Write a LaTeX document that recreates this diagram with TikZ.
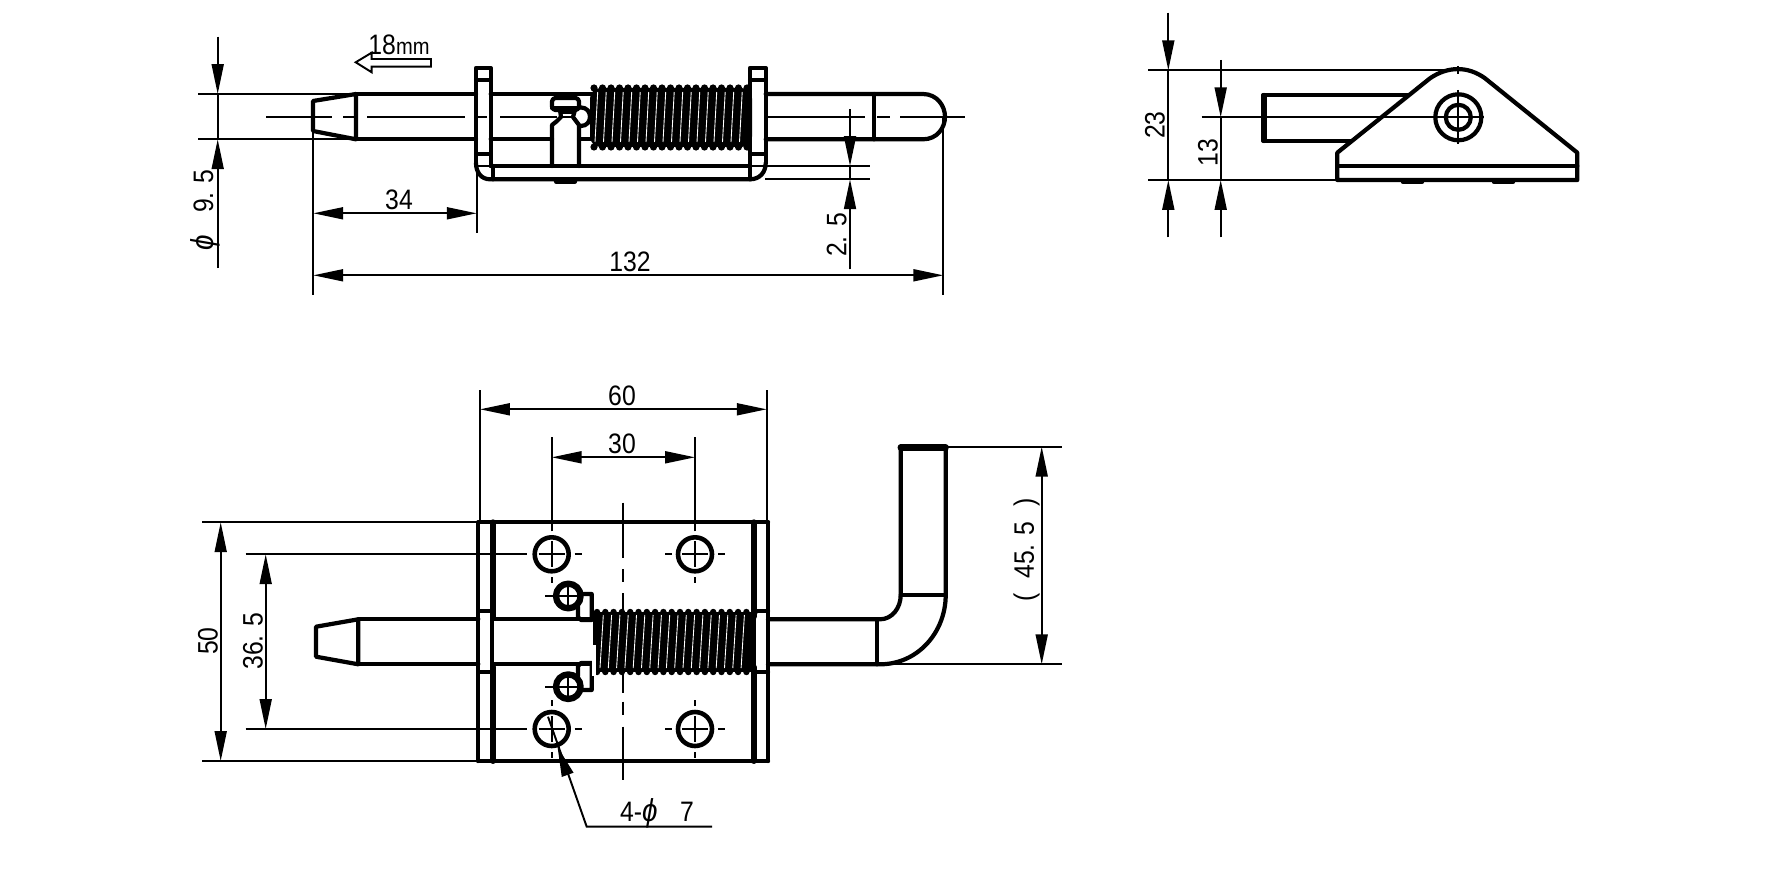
\documentclass[tikz,border=0pt]{standalone}
\usepackage{fontspec}
\setmainfont{Liberation Sans}
\usetikzlibrary{arrows.meta}
\tikzstyle{part}=[draw=black,line width=1.2pt,line join=round,line cap=round]
\tikzstyle{thinln}=[draw=black,line width=.55pt]
\tikzstyle{dimln}=[draw=black,line width=.55pt,>={Triangle[length=8.5pt,width=3.4pt]}]
\tikzstyle{lbl}=[font=\fontsize{8}{9}\selectfont,inner sep=0pt,xscale=.88]
\begin{document}
\begin{tikzpicture}[x=0.01cm,y=-0.01cm]
\useasboundingbox (0,0) rectangle (1767,873);
% top view: centre line
\draw[thinln] (266,116.7)--(332,116.7) (343,116.7)--(355,116.7) (367,116.7)--(465,116.7) (478,116.7)--(487,116.7) (500,116.7)--(557,116.7);
\draw[thinln] (767,116.7)--(865,116.7) (877,116.7)--(890,116.7) (900,116.7)--(965,116.7);
% top view: pin
\draw[part] (356,94)--(313,101)--(313,131)--(356,139.3)--cycle;
\draw[part] (356,94)--(476,94) (356,139.3)--(476,139.3);
\draw[part] (490.7,94)--(592,94) (490.7,139.3)--(552,139.3) (579,139.3)--(592,139.3);
\draw[part] (765.7,94)--(923,94) .. controls (937,94) and (945,106) .. (945,116.7) .. controls (945,128) and (937,139.3) .. (923,139.3)--(765.7,139.3);
\draw[part] (874.3,94)--(874.3,139.3);
% top view: plate
\draw[part] (476,163)--(476,68)--(490.7,68)--(490.7,166);
\draw[part] (476,80)--(490.7,80) (476,154)--(490.7,154);
\draw[part] (476,163) .. controls (476,172) and (481,179.3) .. (490,179.3)--(750,179.3) .. controls (760,179.3) and (765.7,172) .. (765.7,163);
\draw[part] (765.7,163)--(765.7,68)--(750,68)--(750,166);
\draw[part] (750,80)--(765.7,80) (750,154)--(765.7,154);
\draw[part] (490.7,166)--(750,166);
\draw[part] (493,166)--(493,179.3) (750,166)--(750,179.3);
\draw[thinln] (477,166)--(490.7,166) (751,166)--(765,166);
\draw[part] (556,181.5)--(575,181.5);
% top view: latch
\draw[part,rounded corners=1] (552,98) rectangle (579,110);
\draw[part] (552,108)--(579,108);
\draw[part] (560,110)--(561,117)--(557,121)--(552,125)--(552,166);
\draw[part] (575,110)--(573,117)--(576,121)--(579,125)--(579,166);
\draw[thinln] (561,113)--(573,113) (561,117)--(573,117);
\draw[part] (581,107.5) .. controls (593,107.5) and (593,126) .. (581,126);
% top view: spring
\fill[black,rounded corners=3] (590,88) rectangle (752,147);
\foreach \k in {0,...,18} {
  \fill[black] (594+8.5*\k,88) circle[radius=3.6];
  \fill[black] (594+8.5*\k,147) circle[radius=3.6];
}
\foreach \k in {0,...,17} {
  \draw[white,line width=.25pt] (597.7+8.5*\k,92)--(595+8.5*\k,142);
}
% top view: dimensions
\draw[thinln] (198,94)--(356,94) (198,139.3)--(356,139.3);
\draw[dimln] (217.7,94)--(217.7,139.3);
\draw[dimln,->] (217.7,36.7)--(217.7,94);
\draw[dimln,->] (217.7,268)--(217.7,139.3);
\node[rotate=90,lbl] (lblpin) at (205,210) {{\itshape\fontsize{9}{9}\selectfont ϕ}\hspace{.9em}9. 5};
\draw[thinln] (313.3,130)--(313.3,295) (476.7,166)--(476.7,232.7) (943.3,116.7)--(943.3,295);
\draw[dimln,<->] (313.3,213.3)--(476.7,213.3);
\node[lbl] (lbllen) at (399,200) {34};
\draw[dimln,<->] (313.3,275.3)--(943.3,275.3);
\node[lbl] (lbltotal) at (630,261.7) {132};
\draw[thinln] (765,166)--(870,166) (765,179.3)--(870,179.3);
\draw[dimln] (850,166)--(850,179.3);
\draw[dimln,->] (850,109.3)--(850,166);
\draw[dimln,->] (850,269.3)--(850,179.3);
\node[rotate=90,lbl] (lblplate) at (836.7,235) {2. 5};
\node[lbl] (lbltravel) at (399,44.5) {18{\fontsize{6.5}{7}\selectfont mm}};
\draw[thinln,line join=miter] (431,59)--(371.7,59)--(371.7,52.7)--(355.7,62.3)--(371.7,72.3)--(371.7,66.7)--(431,66.7)--cycle;
% side view
\draw[part] (1410,95)--(1263.3,95)--(1263.3,140.7)--(1356,140.7);
\draw[part,line width=1.8pt] (1264,96)--(1264,140);
\fill[white] (1337.3,152.7)--(1430,78.3) .. controls (1448,66) and (1468,66) .. (1485,78.3)--(1577.3,152.7)--(1577.3,180)--(1337.3,180)--cycle;
\draw[part] (1337.3,180)--(1337.3,152.7)--(1430,78.3) .. controls (1448,66) and (1468,66) .. (1485,78.3)--(1577.3,152.7)--(1577.3,180)--cycle;
\draw[part] (1337.3,165.7)--(1577.3,165.7);
\draw[part] (1403,182)--(1422,182) (1494,182)--(1513,182);
\draw[part] (1458.3,117.3) circle[radius=23];
\draw[part] (1458.3,117.3) circle[radius=12.5];
\draw[thinln] (1201.7,117.3)--(1484,117.3) (1458.3,90)--(1458.3,144) (1458.3,66)--(1458.3,74);
\draw[thinln] (1148,70.3)--(1456,70.3) (1148,180)--(1337,180);
\draw[dimln] (1168.3,70.3)--(1168.3,180);
\draw[dimln,->] (1168.3,12.7)--(1168.3,70.3);
\draw[dimln,->] (1168.3,237.3)--(1168.3,180);
\node[rotate=90,lbl] (lblheight) at (1155,125) {23};
\draw[dimln] (1220.7,117.3)--(1220.7,180);
\draw[dimln,->] (1220.7,60)--(1220.7,117.3);
\draw[dimln,->] (1220.7,237.3)--(1220.7,180);
\node[rotate=90,lbl] (lblaxis) at (1208,152.7) {13};
% bottom view: centre lines
\draw[thinln] (623.3,502.7)--(623.3,558.3) (623.3,569)--(623.3,581.7) (623.3,593)--(623.3,611) (623.3,673)--(623.3,693) (623.3,701.7)--(623.3,715) (623.3,726.7)--(623.3,780);
\foreach \cx/\cy in {551.7/554.3,695/554.3,551.7/729,695/729} {
  \draw[thinln] (\cx-13,\cy)--(\cx+13,\cy) (\cx,\cy-13)--(\cx,\cy+13);
  \draw[thinln] (\cx+23,\cy)--(\cx+30,\cy) (\cx,\cy+23)--(\cx,\cy+29) (\cx,\cy-23)--(\cx,\cy-29);
  \draw[part,line width=1.3pt] (\cx,\cy) circle[radius=17];
}
\draw[thinln] (695-30,554.3)--(695-23,554.3) (695-30,729)--(695-23,729);
% bottom view: plate
\draw[part] (478.3,522.3)--(768,522.3);
\draw[part] (478.3,761)--(768,761);
\draw[part] (478.3,522.3)--(478.3,761) (768,522.3)--(768,761);
\draw[part,line width=1.7pt] (493,522.3)--(493,616.7) (493,667)--(493,761);
\draw[part,line width=1.7pt] (753.5,522.3)--(753.5,616.7) (753.5,667)--(753.5,761);
\draw[part] (478.3,611)--(490,611) (478.3,672.3)--(490,672.3);
\draw[part] (757,611)--(768,611) (757,672.3)--(768,672.3);
\draw[part] (492,616.7)--(492,667) (754,616.7)--(754,667);
% bottom view: pin
\draw[part] (358.3,619.3)--(316,626.7)--(316,656.7)--(358.3,664.3)--cycle;
\draw[part] (358.3,619.3)--(478.3,619.3) (358.3,664.3)--(478.3,664.3);
\draw[part] (493,619.3)--(590,619.3) (493,664.3)--(590,664.3);
\draw[part] (768,619.3)--(880,619.3) .. controls (892,619.3) and (900.7,608) .. (900.7,595)--(900.7,446.7);
\draw[part] (768,664.3)--(880,664.3) .. controls (918,664.3) and (945.7,632) .. (945.7,595)--(945.7,446.7);
\draw[part] (876.7,619.3)--(876.7,664.3) (900.7,595)--(945.7,595);
\draw[part,line width=1.8pt] (900.7,447.5)--(945.7,447.5);
% bottom view: studs and spring
\foreach \cy in {596,686.7} {
  \draw[part,line width=1.8pt] (568.3,\cy) circle[radius=12.3];
  \draw[thinln] (545,\cy)--(582,\cy) (568.3,\cy-15)--(568.3,\cy+15);
}
\draw[part] (580,594)--(591.7,594)--(591.7,620)--(581,620)--(578,617)--(578,606.7);
\draw[part] (580,690)--(591.7,690)--(591.7,663)--(581,663)--(578,666)--(578,676);
\fill[black] (593.3,612) rectangle (755,672);
\fill[black] (593.3,612) rectangle (606,645);
\foreach \k in {0,...,19} {
  \fill[black] (597+8.3*\k,612) circle[radius=3.2];
  \fill[black] (597+8.3*\k,672) circle[radius=3.2];
}
\fill[white] (592,645) rectangle (596,676);
\foreach \k in {0,...,17} {
  \draw[white,line width=.25pt] (603.3+8.3*\k,615)--(600+8.3*\k,668);
}
% bottom view: dimensions
\draw[thinln] (480,390)--(480,522.3) (766.7,390)--(766.7,522.3);
\draw[dimln,<->] (480,409.3)--(766.7,409.3);
\node[lbl] (lblwidth) at (622,396) {60};
\draw[thinln] (551.7,437)--(551.7,531) (695,437)--(695,531);
\draw[dimln,<->] (551.7,457.3)--(695,457.3);
\node[lbl] (lblpitch) at (622,444) {30};
\draw[thinln] (202,522.3)--(478.3,522.3) (202,761)--(478.3,761);
\draw[dimln,<->] (220.7,522.3)--(220.7,761);
\node[rotate=90,lbl] (lbldepth) at (208,641) {50};
\draw[thinln] (245.7,554.3)--(527.3,554.3) (245.7,729)--(527.3,729);
\draw[dimln,<->] (265.7,554.3)--(265.7,729);
\node[rotate=90,lbl] (lblrows) at (253,641) {36. 5};
\draw[thinln] (945,446.7)--(1061.7,446.7) (880,664.3)--(1061.7,664.3);
\draw[dimln,<->] (1041.7,446.7)--(1041.7,664.3);
\node[rotate=90,lbl] (lblhook) at (1026.7,550) {(\hspace{.6em}45. 5\hspace{.6em})};
\draw[thinln] (712,826.7)--(586.7,826.7)--(548,716.7);
\draw[dimln,<-] (557.5,746.7)--(567,773);
\node[lbl] (lblholes) at (657,813) {4-{\itshape\fontsize{9}{9}\selectfont ϕ}\hspace{.9em}7};
\end{tikzpicture}
\end{document}
